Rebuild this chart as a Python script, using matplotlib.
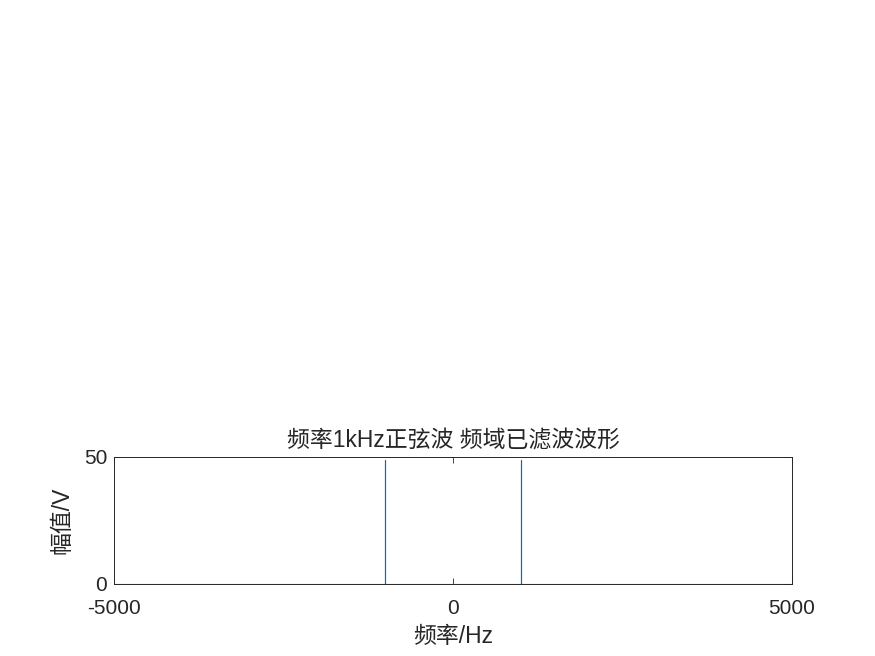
import matplotlib
matplotlib.use('Agg')
from matplotlib import pyplot as plt

plt.rcParams['font.family'] = ['Liberation Sans', 'Noto Sans CJK SC']
plt.rcParams['axes.unicode_minus'] = False

# 频谱数据 (滤波后只剩 ±1kHz)
freq_hz = [-5000, -1000, -1000, -1000, 1000, 1000, 1000, 5000]
amp_v = [0, 0, 49, 0, 0, 49, 0, 0]

x_ticks = [-5000, 0, 5000]
y_ticks = [0, 50]

fig = plt.figure(figsize=(8.75, 6.56), dpi=100)
ax = fig.add_axes([0.1303, 0.1098, 0.7749, 0.1936])

ax.plot(freq_hz, amp_v, color='#0072BD', linewidth=0.8)
ax.set_xlim(-5000, 5000)
ax.set_ylim(0, 50)
ax.set_xticks(x_ticks)
ax.set_yticks(y_ticks)

ax.tick_params(direction='in', length=4.5, width=0.6, colors='#262626',
               labelsize=15, top=True, right=True)
ax.tick_params(axis='x', pad=11)
ax.tick_params(axis='y', pad=5)
for s in ax.spines.values():
  s.set_color('#262626')
  s.set_linewidth(0.7)

ax.set_title('频率1kHz正弦波 频域已滤波波形', fontsize=16.5, color='#262626', pad=7)
ax.set_xlabel('频率/Hz', fontsize=16.5, color='#262626', labelpad=5)
ax.set_ylabel('幅值/V', fontsize=16.5, color='#262626', labelpad=7)

fig.savefig('out.png', dpi=100)
